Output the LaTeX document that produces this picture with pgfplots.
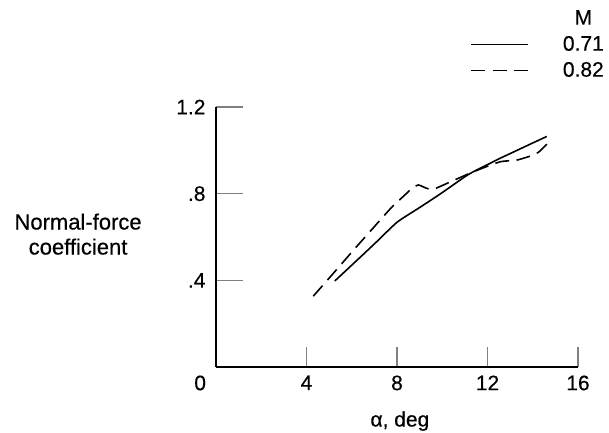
\documentclass[border=0pt]{standalone}
\usepackage{pgfplots}
\pgfplotsset{compat=1.18}
\usepackage{fontspec}
\setmainfont[FakeBold=0.4]{Liberation Sans}
\begin{document}
\begin{tikzpicture}
\useasboundingbox (-216bp,-66bp) rectangle (393bp,367bp);
\begin{axis}[
  at={(0,0)}, anchor=south west,
  scale only axis, width=362bp, height=260bp,
  xmin=0, xmax=16, ymin=0, ymax=1.2,
  axis lines=left, axis line style={-, line width=1.5bp},
  tick align=inside,
  major tick length=23bp,
  xtick style={line width=1.5bp, /pgfplots/major tick length=20bp},
  ytick style={line width=1.5bp, /pgfplots/major tick length=27bp},
  xtick={0,4,8,12,16},
  xticklabels={\makebox[0pt][r]{0\kern10bp},4,8,12,16},
  ytick={0.4,0.8,1.2},
  yticklabels={.4,.8,1.2},
  tick label style={font=\fontsize{21bp}{25bp}\selectfont},
  yticklabel style={xshift=-7bp},
  xticklabel style={yshift=-5bp},
  xlabel={α, deg},
  xlabel style={font=\fontsize{21bp}{25bp}\selectfont, at={(axis description cs:0.508,-0.208)}, anchor=center},
  ylabel={Normal-force\\coefficient},
  ylabel style={font=\fontsize{22bp}{25bp}\selectfont, rotate=-90, align=center, at={(axis description cs:-0.381,0.511)}, anchor=center},
  legend style={at={(axis description cs:1.0718,1.375)}, anchor=north east, draw=none, fill=none, inner sep=0pt,
    font=\fontsize{21bp}{25bp}\selectfont, row sep=8bp,
    nodes={inner sep=0pt, text height=15bp, text depth=3bp}},
  legend cell align=center,
  legend image code/.code={\draw[#1] (0bp,0bp) -- (57bp,0bp); \path (91bp,0bp);},
]
\addlegendimage{empty legend}
\addlegendentry{M}
\addplot[black, line width=1.6bp, smooth, tension=0.3] coordinates {
(5.25,0.397) (6,0.47) (7,0.568) (8,0.668) (9,0.736) (9.6,0.777) (10,0.805) (11,0.878) (11.37,0.901) (12,0.934) (12.55,0.963) (13,0.985) (14,1.034) (14.62,1.064)
};
\addlegendentry{0.71}
\addplot[black, line width=1.6bp, dash pattern=on 14bp off 7.5bp, smooth, tension=0.3] coordinates {
(4.3,0.327) (5,0.41) (6,0.53) (7,0.648) (7.7,0.73) (8,0.76) (8.65,0.823) (8.95,0.84) (9.3,0.825) (9.6,0.82) (10.2,0.847) (11.37,0.901) (12.55,0.947) (13.3,0.955) (14.02,0.978) (14.3,0.995) (14.62,1.028)
};
\addlegendentry{0.82}
\end{axis}
\end{tikzpicture}
\end{document}
